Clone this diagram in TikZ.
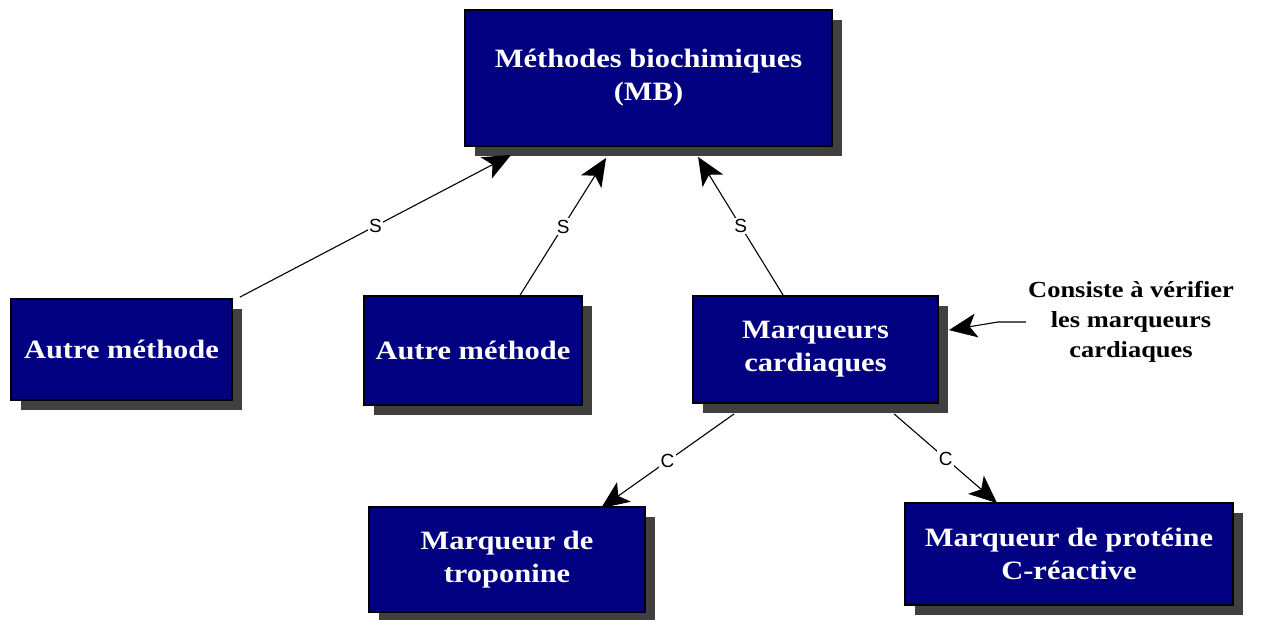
\documentclass[tikz,border=0pt]{standalone}
\usepackage{fontspec}
\setmainfont{Liberation Serif}
\newfontfamily\boxfont{Liberation Serif}[FakeStretch=1.15]
\newfontfamily\tagfont{Liberation Sans}
\usetikzlibrary{shadows,arrows.meta}
\definecolor{boxblue}{RGB}{0,0,128}
\definecolor{shadowgray}{RGB}{64,64,64}

\begin{document}
\begin{tikzpicture}[x=1pt,y=-1pt,
  card/.style={draw=black, line width=1.8pt, fill=boxblue, text=white, align=center,
    font=\boxfont\bfseries\fontsize{26.5}{33}\selectfont, inner sep=0pt,
    drop shadow={shadow xshift=10pt, shadow yshift=-10pt, fill=shadowgray, opacity=1}},
  link/.style={draw=black, line width=1.1pt, -{Stealth[length=28pt,width=24pt,inset=7pt]}},
  tag/.style={fill=white, inner sep=1.5pt, text=black, font=\tagfont\fontsize{19}{19}\selectfont},
  note/.style={align=center, inner sep=2pt, text=black,
    font=\boxfont\bfseries\fontsize{23}{30}\selectfont},
]
\useasboundingbox (0,0) rectangle (1266,619);

% boxes
\node[card, minimum width=367pt, minimum height=136pt] (mb)  at (648.5,78)   {Méthodes biochimiques\\(MB)};
\node[card, minimum width=221pt, minimum height=101pt] (am1) at (121.5,349.5) {Autre méthode};
\node[card, minimum width=218pt, minimum height=109pt] (am2) at (473,350.5)   {Autre méthode};
\node[card, minimum width=245pt, minimum height=107pt] (mc)  at (815.5,349.5) {Marqueurs\\cardiaques};
\node[card, minimum width=276pt, minimum height=105pt] (tro) at (507,559.5)   {Marqueur de\\troponine};
\node[card, minimum width=328pt, minimum height=102pt] (crp) at (1069,554)    {Marqueur de protéine\\C-réactive};

% annotation
\node[note] (nt) at (1131,322) {Consiste à vérifier\\les marqueurs\\cardiaques};

% specialisation links
\draw[link] ([xshift=7pt,yshift=1pt]am1.north east) -- node[tag]{S} ([xshift=47pt,yshift=-8pt]mb.south west);
\draw[link] ([xshift=157pt]am2.north west) -- node[tag]{S} ([xshift=142pt,yshift=-11pt]mb.south west);
\draw[link] ([xshift=91pt]mc.north west) -- node[tag]{S} ([xshift=234pt,yshift=-10pt]mb.south west);

% composition links
\draw[link] ([xshift=42pt,yshift=-10pt]mc.south west) -- node[tag]{C} ([xshift=233pt,yshift=-2pt]tro.north west);
\draw[link] ([xshift=202pt,yshift=-10pt]mc.south west) -- node[tag]{C} ([xshift=93pt,yshift=-1pt]crp.north west);

% annotation pointer
\draw[link] (nt.west) -- ([xshift=-28pt]nt.west) -- ([xshift=10pt,yshift=-35pt]mc.north east);
\end{tikzpicture}
\end{document}
